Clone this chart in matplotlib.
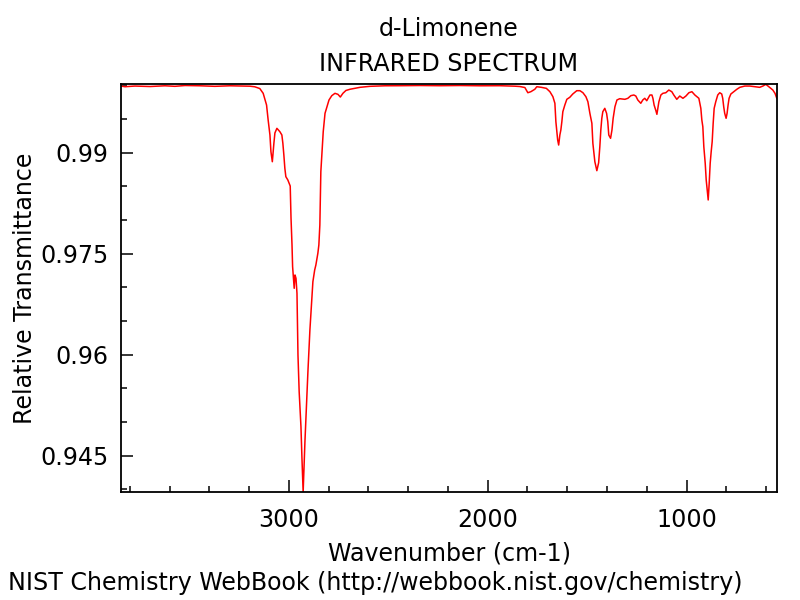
import matplotlib
matplotlib.use("Agg")
import matplotlib.pyplot as plt
from matplotlib.ticker import MultipleLocator, FixedLocator

title = "d-Limonene"
subtitle = "INFRARED SPECTRUM"
xlabel = "Wavenumber (cm-1)"
ylabel = "Relative Transmittance"
footer = "NIST Chemistry WebBook (http://webbook.nist.gov/chemistry)"

wavenumber = [
    3844, 3824, 3774, 3698, 3623, 3573, 3522, 3447, 3372, 3296, 3221, 3196, 3171, 3146,
    3129, 3112, 3104, 3095, 3090, 3083, 3075, 3070, 3060, 3045, 3035, 3030, 3025, 3020,
    3015, 3005, 2993, 2989, 2984, 2981, 2976, 2973, 2969, 2964, 2959, 2954, 2948, 2939,
    2934, 2928, 2919, 2914, 2909, 2904, 2894, 2889, 2884, 2879, 2870, 2864, 2854, 2849,
    2844, 2839, 2832, 2827, 2818, 2808, 2798, 2784, 2768, 2753, 2741, 2728, 2713, 2693,
    2642, 2592, 2517, 2442, 2341, 2240, 2140, 2039, 1939, 1863, 1838, 1813, 1798, 1783,
    1763, 1753, 1730, 1705, 1687, 1672, 1662, 1657, 1648, 1643, 1637, 1632, 1627, 1622,
    1612, 1602, 1587, 1572, 1552, 1536, 1521, 1506, 1496, 1486, 1476, 1471, 1461, 1451,
    1442, 1436, 1431, 1426, 1421, 1411, 1402, 1396, 1391, 1382, 1375, 1369, 1360, 1350,
    1336, 1310, 1295, 1280, 1265, 1255, 1245, 1230, 1220, 1210, 1200, 1184, 1174, 1169,
    1163, 1154, 1149, 1144, 1139, 1129, 1119, 1104, 1089, 1074, 1064, 1049, 1034, 1018,
    1003, 988, 973, 958, 938, 928, 923, 918, 913, 906, 901, 896, 891, 886, 881, 876,
    871, 866, 861, 853, 843, 833, 823, 818, 813, 808, 801, 796, 791, 786, 777, 762,
    747, 732, 707, 682, 657, 632, 616, 601, 586, 566, 555, 546,
]

transmittance = [
    0.9999, 0.9998, 0.9999, 0.99983, 0.99994, 0.99986, 0.99998, 0.99994, 0.99986, 0.99994,
    0.9999, 0.99988, 0.99979, 0.99953,
    0.99882, 0.99708, 0.99486, 0.99263, 0.99015, 0.98866, 0.99144, 0.99293, 0.99362, 0.99312,
    0.99263, 0.9914, 0.98966, 0.98768,
    0.98644, 0.98595, 0.98505, 0.9803, 0.97629, 0.97307, 0.97109, 0.96986, 0.97184, 0.97135,
    0.96912, 0.95995, 0.9545, 0.9493,
    0.94461, 0.9396, 0.94708, 0.95055, 0.95401, 0.95747, 0.96367, 0.96615, 0.96886, 0.97084,
    0.97258, 0.97332, 0.97506, 0.97629,
    0.97926, 0.98718, 0.99065, 0.99312, 0.99585, 0.99683, 0.99783, 0.99847, 0.99882, 0.99867,
    0.99827, 0.99882, 0.99924, 0.99942,
    0.99971, 0.99986, 0.99994, 0.99995, 0.99998, 0.99995, 0.99998, 0.99994, 0.99995, 0.99988,
    0.99983, 0.99968, 0.99891, 0.99906,
    0.99942, 0.9998, 0.99971, 0.99956, 0.99906, 0.99832, 0.99734, 0.9946, 0.99189, 0.99114,
    0.99263, 0.99337, 0.9946, 0.99609,
    0.99708, 0.99793, 0.99823, 0.99872, 0.99921, 0.99921, 0.99891, 0.99832, 0.99757, 0.99585,
    0.99437, 0.9914, 0.98866, 0.98733,
    0.98851, 0.99089, 0.99337, 0.99511, 0.99609, 0.99659, 0.99585, 0.9946, 0.99263, 0.99214,
    0.99337, 0.99511, 0.99683, 0.99783,
    0.99802, 0.99793, 0.99808, 0.99847, 0.99857, 0.99842, 0.99783, 0.99734, 0.99783, 0.99808,
    0.99772, 0.99857, 0.99857, 0.99808,
    0.99708, 0.99624, 0.9957, 0.99659, 0.99757, 0.99857, 0.99882, 0.99891, 0.99931, 0.99906,
    0.99857, 0.99793, 0.99842, 0.99808,
    0.99842, 0.99891, 0.99906, 0.99857, 0.99808, 0.99659, 0.99486, 0.99386, 0.99089, 0.98843,
    0.98595, 0.98446, 0.98298, 0.98546, 0.98843, 0.99015,
    0.99163, 0.99437, 0.99659, 0.99757, 0.99857, 0.99891, 0.99872, 0.99808, 0.99683, 0.99585,
    0.99511, 0.99585, 0.99708, 0.99808, 0.99872, 0.99906,
    0.99942, 0.99971, 0.9999, 0.9999, 0.9998, 0.99971, 0.9999, 1.00015, 0.9998, 0.99931,
    0.99882, 0.99808,
]

x_major = [1000, 2000, 3000]
x_major_labels = ["1000", "2000", "3000"]
y_major = [0.945, 0.96, 0.975, 0.99]
y_major_labels = ["0.945", "0.96", "0.975", "0.99"]

FS = 17.1
W, H = 800, 600
fig = plt.figure(figsize=(8, 6), dpi=100)
ax = fig.add_axes([121 / W, 1 - 491.7 / H, (777 - 121) / W, (491.7 - 84.3) / H])
ax.plot(wavenumber, transmittance, color="#ff0000", lw=1.1)
ax.set_xlim(3844, 545)
ax.set_ylim(0.93965, 1.00016)

ax.xaxis.set_major_locator(FixedLocator(x_major))
ax.set_xticklabels(x_major_labels)
ax.xaxis.set_minor_locator(MultipleLocator(200))
ax.yaxis.set_major_locator(FixedLocator(y_major))
ax.set_yticklabels(y_major_labels)
ax.yaxis.set_minor_locator(MultipleLocator(0.005))

ax.tick_params(which="both", direction="in", top=False, right=False, labelsize=FS, colors="black")
ax.tick_params(which="major", length=8.6, width=1.1)
ax.tick_params(which="minor", length=4.3, width=1.1)
ax.tick_params(axis="x", which="major", pad=12)
ax.tick_params(axis="y", which="major", pad=9)
for s in ax.spines.values():
    s.set_linewidth(1.3)
    s.set_color("black")

fig.text(449 / W, 1 - 29 / H, title, ha="center", va="center", fontsize=FS)
fig.text(449 / W, 1 - 64 / H, subtitle, ha="center", va="center", fontsize=FS)
fig.text(449 / W, 1 - 553 / H, xlabel, ha="center", va="center", fontsize=FS)
fig.text(25 / W, 1 - 288 / H, ylabel, ha="center", va="center", rotation=90, fontsize=FS)
fig.text(8 / W, 1 - 583 / H, footer, ha="left", va="center", fontsize=FS)

fig.savefig("out.png", dpi=100)
